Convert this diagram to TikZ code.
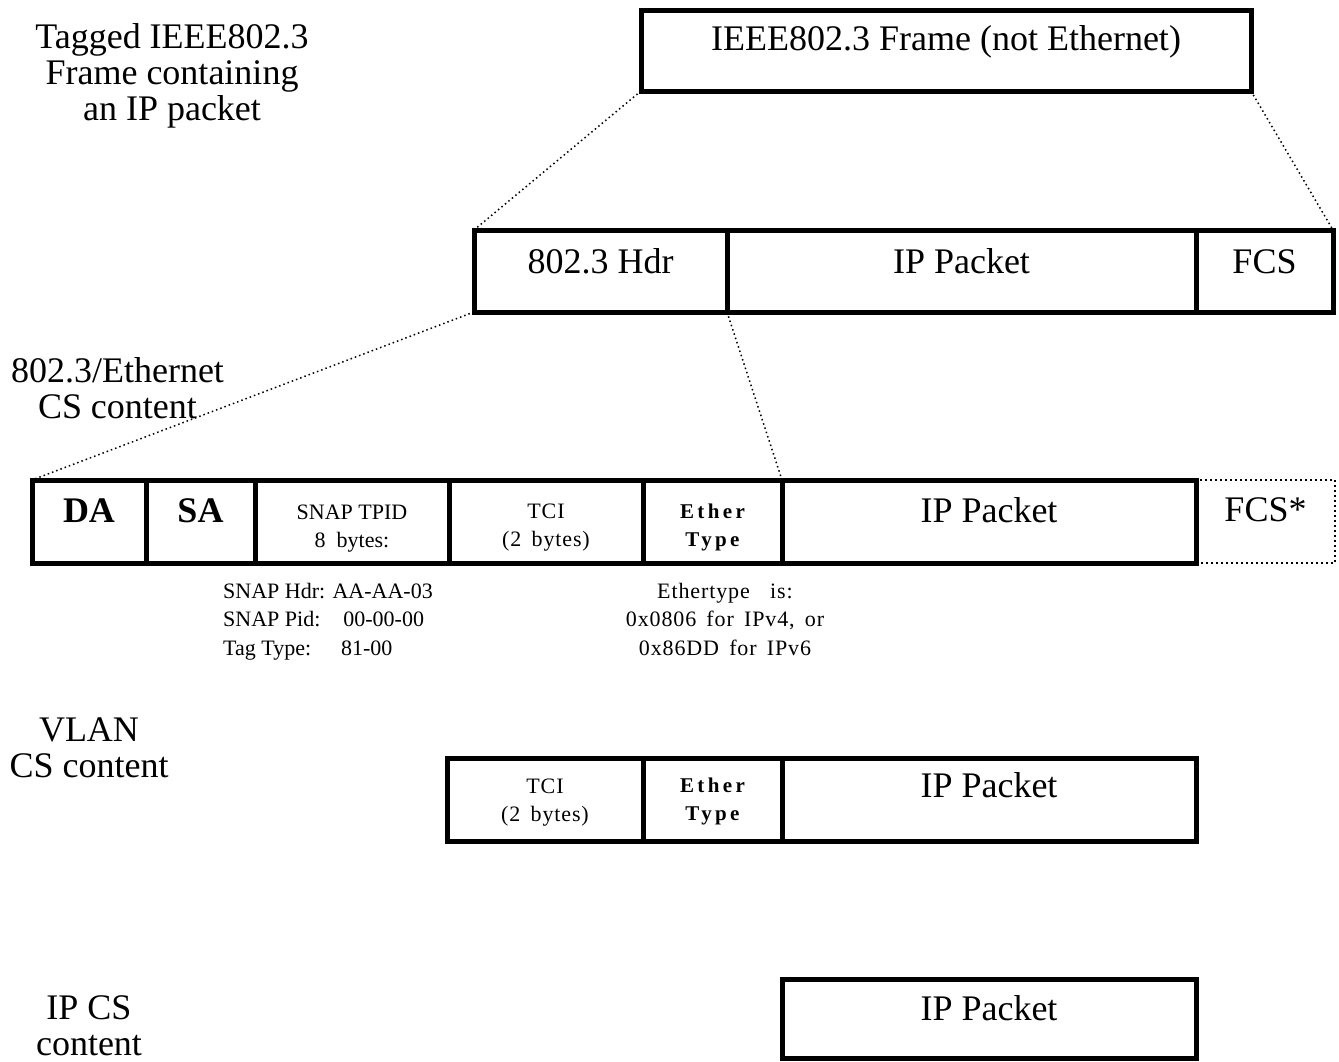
\documentclass[tikz,border=0pt]{standalone}
\usepackage{fontspec}
\setmainfont{Liberation Serif}
\newfontfamily\widefont[LetterSpace=4,WordSpace=1.6]{Liberation Serif}
\newfontfamily\etherfont[LetterSpace=16]{Liberation Serif}
\begin{document}
\begin{tikzpicture}[x=1pt, y=-1pt,
  big/.style={font=\fontsize{36}{36}\selectfont},
  small/.style={font=\fontsize{22}{28}\selectfont},
  cell/.style={draw, line width=5pt, inner sep=0pt, outer sep=0pt, minimum height=83pt, align=center},
  guide/.style={line width=1.5pt, dash pattern=on 1.5pt off 3pt}]
\useasboundingbox (0,0) rectangle (1339,1061);
\node[cell, big, minimum width=610pt, minimum height=81pt, text height=40pt, text depth=41pt] (frame) at (946,50.5) {IEEE802.3 Frame (not Ethernet)};
\node[cell, big, minimum width=253pt, minimum height=82pt, text height=43pt, text depth=39pt] (hdr) at (600.5,271) {802.3 Hdr};
\node[cell, big, minimum width=469pt, minimum height=82pt, text height=43pt, text depth=39pt] (pkt) at (961.5,271) {IP Packet};
\node[cell, big, minimum width=137pt, minimum height=82pt, text height=43pt, text depth=39pt] (fcs) at (1264.5,271) {FCS};
\draw[guide] (frame.south west) -- (hdr.north west);
\draw[guide] (frame.south east) -- (fcs.north east);
\node[cell, big, font=\fontsize{36}{36}\selectfont\bfseries, minimum width=114pt, text height=42pt, text depth=41pt] (da) at (89,521.5) {DA};
\node[cell, big, font=\fontsize{36}{36}\selectfont\bfseries, minimum width=109pt, text height=42pt, text depth=41pt] (sa) at (200.5,521.5) {SA};
\node[cell, small, minimum width=194pt, text height=67pt, text depth=16pt] (snap) at (352,521.5) {SNAP TPID\\8\ \ bytes:};
\node[cell, small, font=\fontsize{22}{28}\widefont, minimum width=194pt, text height=66pt, text depth=17pt] (tci) at (546,521.5) {TCI\\(2 bytes)};
\node[cell, font=\fontsize{21}{28}\etherfont\bfseries, minimum width=139pt, text height=66pt, text depth=17pt] (ether) at (712.5,521.5) {Ether\\Type};
\node[cell, big, minimum width=414pt, text height=42pt, text depth=41pt] (ippkt) at (989,521.5) {IP Packet};
\node[cell, big, line width=2pt, dash pattern=on 2pt off 3pt, minimum width=139pt, text height=41pt, text depth=42pt] (fcsx) at (1265.5,521.5) {FCS*};
\draw[guide] (hdr.south west) -- (da.north west);
\draw[guide] (hdr.south east) -- (ether.north east);
\node[big, align=center, anchor=base] (tagged) at (172,120) {Tagged IEEE802.3\\Frame containing\\an IP packet};
\node[big, align=center, anchor=base] (ethcs) at (117.5,418) {802.3/Ethernet\\CS content};
\node[font=\fontsize{22}{28.5}\selectfont, align=left, anchor=base west, inner sep=0pt] (snapnote) at (223,655) {SNAP Hdr: AA-AA-03\\SNAP Pid:\hspace{23pt}00-00-00\\Tag Type:\hspace{30pt}81-00};
\node[font=\fontsize{22}{28.5}\widefont, align=center, anchor=base, inner sep=0pt] (etnote) at (725,655) {Ethertype\ \ is:\\0x0806 for IPv4, or\\0x86DD for IPv6};
\node[big, align=center, anchor=base] (vlancs) at (89,777) {VLAN\\CS content};
\node[cell, small, font=\fontsize{22}{28}\widefont, minimum width=196pt, text height=63pt, text depth=20pt] (vtci) at (545,799.5) {TCI\\(2 bytes)};
\node[cell, font=\fontsize{21}{28}\etherfont\bfseries, minimum width=139pt, text height=62pt, text depth=21pt] (vether) at (712.5,799.5) {Ether\\Type};
\node[cell, big, minimum width=414pt, text height=39pt, text depth=44pt] (vpkt) at (989,799.5) {IP Packet};
\node[big, align=center, anchor=base] (ipcs) at (89,1055) {IP CS\\content};
\node[cell, big, minimum width=414pt, minimum height=79pt, text height=41pt, text depth=38pt] (ipkt) at (989,1018.5) {IP Packet};
\end{tikzpicture}
\end{document}
